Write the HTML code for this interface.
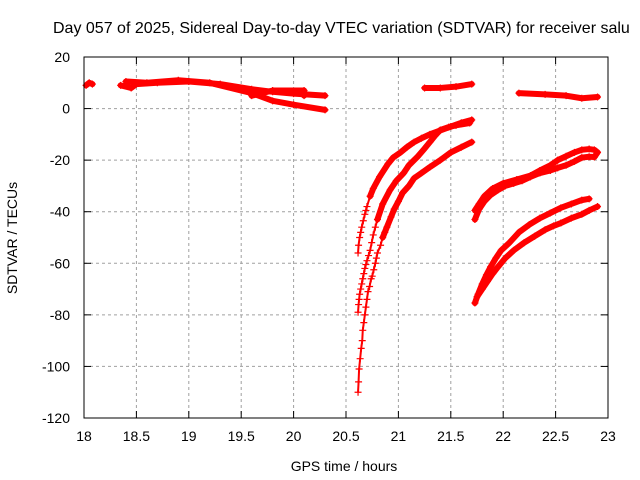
<!DOCTYPE html>
<html><head><meta charset="utf-8">
<style>
html,body{margin:0;padding:0;background:#fff;width:640px;height:480px;overflow:hidden}
svg text{font-family:"Liberation Sans",sans-serif;font-size:14px;fill:#000}
</style></head>
<body>
<svg id="chart" width="640" height="480" xmlns="http://www.w3.org/2000/svg">
<text x="53" y="33" style="font-size:16px">Day 057 of 2025, Sidereal Day-to-day VTEC variation (SDTVAR) for receiver salu</text>
<g id="grid"></g>
<g id="axes"></g>
<g id="series"></g>
<rect x="84" y="57" width="524" height="361" fill="none" stroke="#000" stroke-width="1"/>
<text x="344" y="471" text-anchor="middle">GPS time / hours</text>
<text transform="translate(17,238) rotate(-90)" text-anchor="middle">SDTVAR / TECUs</text>
</svg>
<script>
const xTicks=[18,18.5,19,19.5,20,20.5,21,21.5,22,22.5,23];
const yTicks=[20,0,-20,-40,-60,-80,-100,-120];
const segA1=[[18.02,9],[18.05,10],[18.08,9.5]];
const segA2=[[18.35,9],[18.45,8],[18.5,9.5],[18.7,10],[19.0,10.5],[19.3,9.5],[19.6,7.5],[19.8,6.5],[20.0,5.8],[20.3,5]];
const segA3=[[18.4,10.5],[18.6,10],[18.9,11],[19.2,10],[19.6,6],[19.8,3],[20.0,1.5],[20.3,-0.5]];
const segA4=[[19.6,5],[19.8,7],[20.1,7],[20.1,5]];
const segB=[[21.25,8],[21.4,8],[21.55,8.5],[21.7,9.5]];
const segC=[[22.15,6],[22.4,5.5],[22.6,5],[22.75,4],[22.9,4.5]];
const curve1=[[20.615,-56],[20.62,-53],[20.63,-50],[20.64,-48],[20.65,-46],[20.665,-43.5],[20.68,-41],[20.69,-39.5],[20.7,-38],[20.73,-34],[20.76,-31],[20.82,-26.5],[20.9,-21.5],[20.95,-19],[21.02,-17],[21.08,-15],[21.15,-13],[21.22,-11.5],[21.3,-10],[21.4,-8.5],[21.5,-7],[21.6,-5.5],[21.7,-4.4]];
const curve2=[[20.615,-79],[20.62,-76],[20.625,-74],[20.63,-72],[20.64,-70],[20.65,-68],[20.66,-66],[20.67,-64],[20.68,-62],[20.69,-60.5],[20.7,-59],[20.715,-57],[20.73,-55],[20.745,-52],[20.76,-49],[20.78,-46],[20.8,-43],[20.85,-37],[20.92,-31.6],[20.98,-28],[21.05,-25],[21.1,-22],[21.18,-18.8],[21.25,-15.5],[21.3,-13],[21.35,-10.5],[21.4,-8.3],[21.48,-7.2],[21.55,-6.5],[21.68,-5.6]];
const curve3=[[20.615,-110],[20.62,-106],[20.625,-101],[20.635,-97],[20.645,-93],[20.655,-90],[20.66,-86],[20.67,-83],[20.68,-80],[20.69,-77],[20.7,-74],[20.71,-71],[20.725,-69],[20.74,-66],[20.75,-65],[20.765,-62.5],[20.78,-60],[20.79,-58],[20.8,-56],[20.83,-53],[20.85,-50],[20.87,-48],[20.89,-46],[20.93,-42],[20.96,-39],[21.0,-36],[21.04,-32.7],[21.1,-30],[21.15,-27],[21.22,-25],[21.3,-22.7],[21.4,-20],[21.5,-17],[21.6,-15],[21.7,-13]];
const curve4a=[[21.73,-39.5],[21.77,-37],[21.82,-34],[21.9,-31],[22.0,-29],[22.13,-27.5],[22.26,-26],[22.35,-24],[22.45,-22],[22.52,-20],[22.6,-18.5],[22.68,-17],[22.75,-16],[22.82,-15.7],[22.87,-16],[22.9,-17]];
const curve4b=[[21.73,-43],[21.77,-39],[21.82,-36],[21.88,-33.5],[21.95,-31.6],[22.02,-30],[22.1,-29],[22.18,-28],[22.26,-26.5],[22.35,-25],[22.45,-24],[22.52,-23],[22.6,-22],[22.68,-20.5],[22.75,-19],[22.82,-18.7],[22.87,-18.8],[22.9,-17]];
const curve5=[[21.73,-75.4],[21.76,-72],[21.8,-68],[21.84,-64.5],[21.88,-61.4],[21.93,-58],[21.98,-55],[22.02,-53.5],[22.06,-52],[22.15,-48],[22.25,-45],[22.35,-42.5],[22.45,-40.5],[22.55,-38.5],[22.65,-37],[22.75,-35.5],[22.82,-35]];
const curve6=[[21.75,-73],[21.8,-70],[21.85,-67],[21.9,-64],[21.95,-61.4],[22.02,-58],[22.1,-55],[22.2,-52],[22.3,-49.5],[22.4,-47],[22.48,-45.5],[22.55,-44.4],[22.65,-42.5],[22.75,-41],[22.82,-39.5],[22.9,-38]];
const allSeries=[segA1,segA2,segA3,segA4,segB,segC,curve1,curve2,curve3,curve4a,curve4b,curve5,curve6];
const seriesNames=['seg-a1','seg-a2','seg-a3','seg-a4','seg-b','seg-c','curve-1','curve-2','curve-3','curve-4a','curve-4b','curve-5','curve-6'];
const thickFrom={6:-36,7:-44,8:-52};

const NS='http://www.w3.org/2000/svg';
const L=84,R=608,T=57,B=418;
function X(t){return L+(t-18)/(23-18)*(R-L);}
function Y(v){return T+(20-v)/(140)*(B-T);}
function mk(tag,attrs,parent){const e=document.createElementNS(NS,tag);for(const k in attrs)e.setAttribute(k,attrs[k]);parent.appendChild(e);return e;}
const grid=document.getElementById('grid'),axes=document.getElementById('axes'),ser=document.getElementById('series');
xTicks.forEach(t=>{
  const x=X(t);
  if(t>18&&t<23){const g=mk('line',{x1:x,x2:x,y1:T,y2:B,stroke:'#a0a0a0','stroke-dasharray':'3,3'},grid);
  
  }
  mk('line',{x1:x,x2:x,y1:B,y2:B-7,stroke:'#000'},axes);
  mk('line',{x1:x,x2:x,y1:T,y2:T+7,stroke:'#000'},axes);
  const tx=mk('text',{x:x,y:B+23,'text-anchor':'middle'},axes);tx.textContent=t;
  
  
});
yTicks.forEach(v=>{
  const y=Y(v);
  if(v<20&&v>-120){const g=mk('line',{x1:L,x2:R,y1:y,y2:y,stroke:'#a0a0a0','stroke-dasharray':'3,3'},grid);
  
  }
  mk('line',{x1:L,x2:L+7,y1:y,y2:y,stroke:'#000'},axes);
  mk('line',{x1:R,x2:R-7,y1:y,y2:y,stroke:'#000'},axes);
  const tx=mk('text',{x:L-14,y:y+5,'text-anchor':'end'},axes);tx.textContent=v;
  
  
});
function pts(a){return a.map(p=>X(p[0])+','+Y(p[1])).join(' ');}
allSeries.forEach((s,i)=>{
  const g=mk('g',{},ser);
  
  
  if(i in thickFrom){
    mk('polyline',{points:pts(s),fill:'none',stroke:'#f00','stroke-width':2},g);
    const thick=s.filter(p=>p[1]>=thickFrom[i]);
    mk('polyline',{points:pts(thick),fill:'none',stroke:'#f00','stroke-width':6,'stroke-linejoin':'round','stroke-linecap':'round'},g);
  } else {
    mk('polyline',{points:pts(s),fill:'none',stroke:'#f00','stroke-width':6,'stroke-linejoin':'round','stroke-linecap':'round'},g);
  }
  s.forEach(p=>{
    const x=X(p[0]),y=Y(p[1]);
    mk('path',{d:`M${x-3.5},${y}h7M${x},${y-3.5}v7`,stroke:'#f00','stroke-width':1.2,fill:'none'},g);
  });
});
</script>
</body></html>
